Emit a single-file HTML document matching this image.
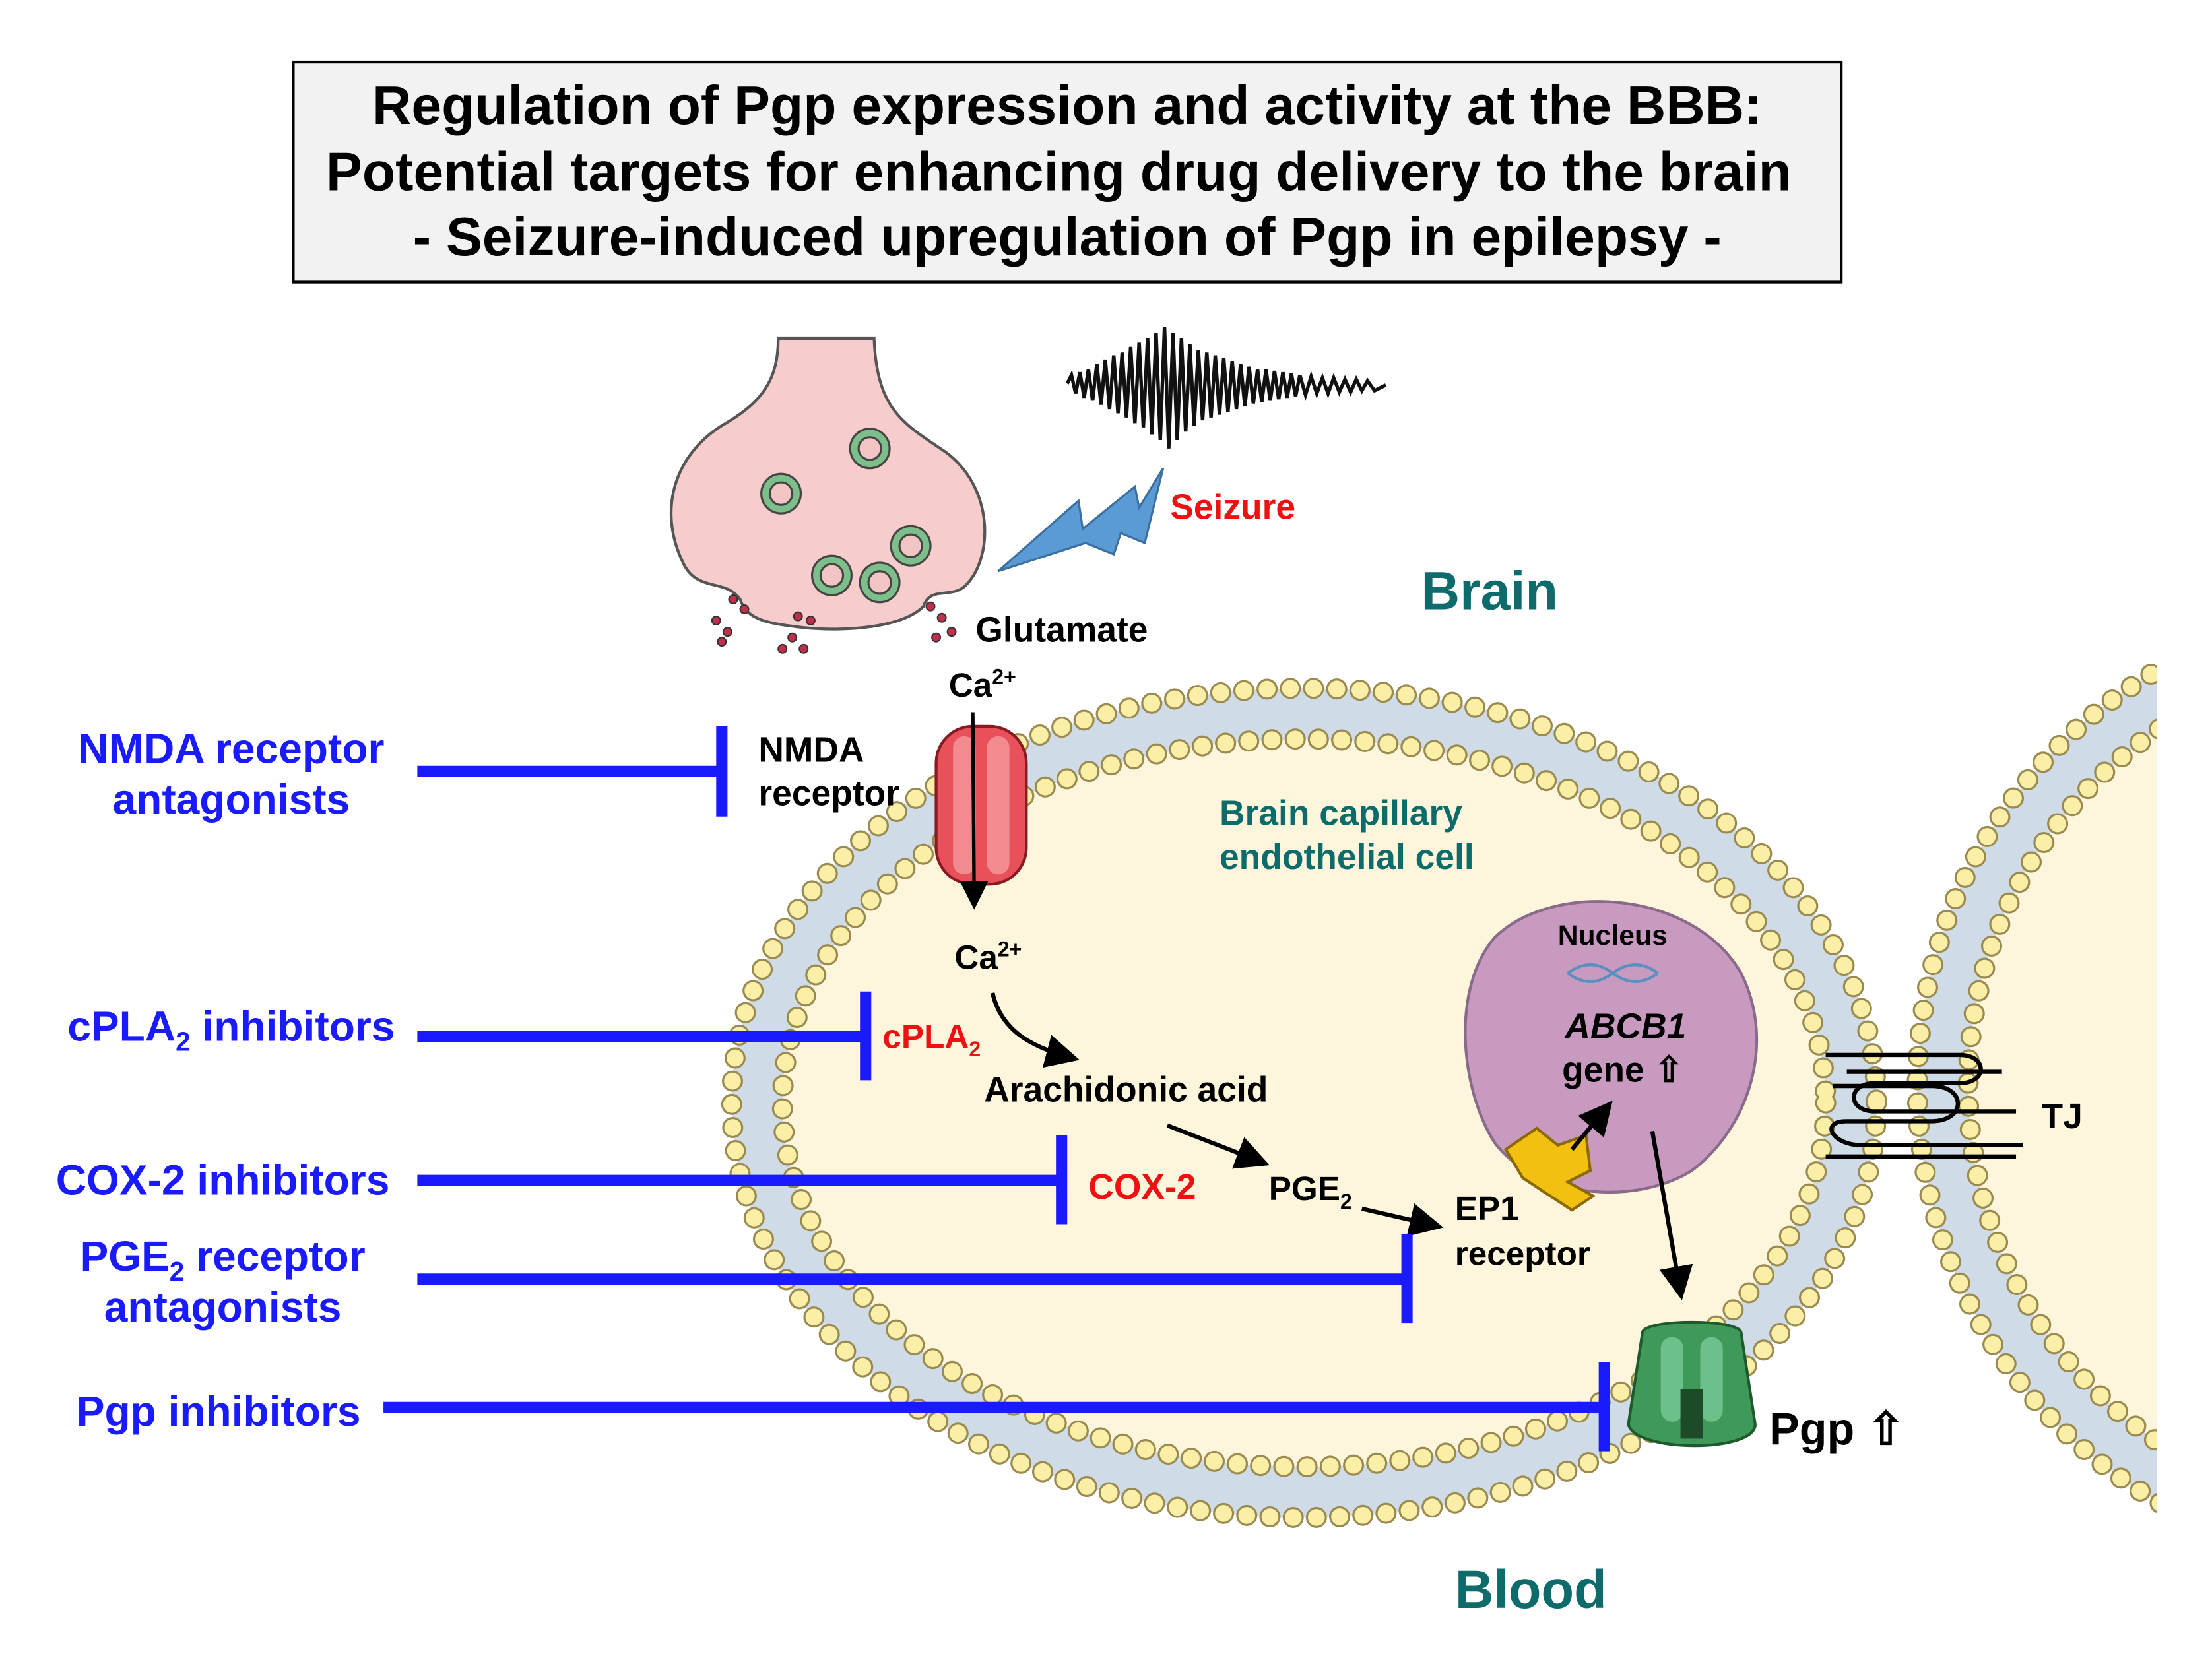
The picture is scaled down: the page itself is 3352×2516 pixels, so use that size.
<!DOCTYPE html>
<html><head><meta charset="utf-8"><style>
html,body{margin:0;padding:0;background:#fff;}
svg{display:block;}
text{font-family:"Liberation Sans",Arial,sans-serif;font-weight:bold;}
</style></head><body>
<svg width="3352" height="2516" viewBox="0 0 1569 1177" preserveAspectRatio="none" xmlns="http://www.w3.org/2000/svg">
<defs>
<marker id="ah" markerWidth="8" markerHeight="8" refX="6" refY="4" orient="auto" markerUnits="strokeWidth"><path d="M0,0 L8,4 L0,8 z" fill="#000"/></marker>
<clipPath id="rc"><rect x="0" y="0" width="1530" height="1177"/></clipPath>
</defs>
<!-- title -->
<rect x="208" y="44" width="1098" height="156" fill="#f2f2f2" stroke="#000" stroke-width="2"/>
<text x="757" y="88" font-size="38.5" text-anchor="middle">Regulation of Pgp expression and activity at the BBB:</text>
<text x="751" y="135" font-size="38.5" text-anchor="middle">Potential targets for enhancing drug delivery to the brain</text>
<text x="757" y="181" font-size="38.5" text-anchor="middle">- Seizure-induced upregulation of Pgp in epilepsy -</text>

<!-- right cell -->
<g clip-path="url(#rc)">
<circle cx="1700" cy="770" r="322" fill="#fdf6dc"/>
<circle cx="1700" cy="770" r="322" fill="none" stroke="#cfdbe6" stroke-width="36"/>
<circle cx="1700" cy="770" r="340" fill="none" stroke="#9a8a50" stroke-width="15" stroke-dasharray="0 16.5" stroke-linecap="round"/>
<circle cx="1700" cy="770" r="340" fill="none" stroke="#fbefa8" stroke-width="12" stroke-dasharray="0 16.5" stroke-linecap="round"/>
<circle cx="1700" cy="770" r="304" fill="none" stroke="#9a8a50" stroke-width="15" stroke-dasharray="0 16.5" stroke-linecap="round"/>
<circle cx="1700" cy="770" r="304" fill="none" stroke="#fbefa8" stroke-width="12" stroke-dasharray="0 16.5" stroke-linecap="round"/>
</g>
<!-- main cell -->
<ellipse cx="925" cy="782" rx="388" ry="276" fill="#fdf6dc"/>
<ellipse cx="925" cy="782" rx="388" ry="276" fill="none" stroke="#cfdbe6" stroke-width="36"/>
<ellipse cx="925" cy="782" rx="406" ry="294" fill="none" stroke="#9a8a50" stroke-width="15" stroke-dasharray="0 16.5" stroke-linecap="round"/>
<ellipse cx="925" cy="782" rx="406" ry="294" fill="none" stroke="#fbefa8" stroke-width="12" stroke-dasharray="0 16.5" stroke-linecap="round"/>
<ellipse cx="925" cy="782" rx="370" ry="258" fill="none" stroke="#9a8a50" stroke-width="15" stroke-dasharray="0 16.5" stroke-linecap="round"/>
<ellipse cx="925" cy="782" rx="370" ry="258" fill="none" stroke="#fbefa8" stroke-width="12" stroke-dasharray="0 16.5" stroke-linecap="round"/>

<!-- presynaptic terminal -->
<path d="M552,240 L620,240 C622,290 640,300 670,320 C705,345 705,395 685,415 C675,425 660,415 655,430 C640,445 600,448 570,445 C545,442 530,440 525,425 C515,410 495,420 485,400 C465,360 480,320 515,300 C540,285 552,270 552,240 Z" fill="#f7cccc" stroke="#555" stroke-width="2"/>
<g stroke="#444" stroke-width="1.5">
<circle cx="617" cy="318" r="14" fill="#7cbf8a"/><circle cx="617" cy="318" r="8" fill="#f2c4c4"/>
<circle cx="554" cy="350" r="14" fill="#7cbf8a"/><circle cx="554" cy="350" r="8" fill="#f2c4c4"/>
<circle cx="646" cy="387" r="14" fill="#7cbf8a"/><circle cx="646" cy="387" r="8" fill="#f2c4c4"/>
<circle cx="590" cy="408" r="14" fill="#7cbf8a"/><circle cx="590" cy="408" r="8" fill="#f2c4c4"/>
<circle cx="624" cy="413" r="14" fill="#7cbf8a"/><circle cx="624" cy="413" r="8" fill="#f2c4c4"/>
</g>
<g fill="#c0304a" stroke="#333" stroke-width="1">
<circle cx="508" cy="440" r="3"/><circle cx="516" cy="448" r="3"/><circle cx="512" cy="455" r="3"/><circle cx="520" cy="425" r="3"/><circle cx="528" cy="432" r="3"/>
<circle cx="555" cy="460" r="3"/><circle cx="562" cy="452" r="3"/><circle cx="570" cy="460" r="3"/><circle cx="575" cy="440" r="3"/><circle cx="566" cy="437" r="3"/>
<circle cx="660" cy="430" r="3"/><circle cx="668" cy="438" r="3"/><circle cx="675" cy="448" r="3"/><circle cx="664" cy="452" r="3"/>
</g>
<!-- EEG -->
<path d="M757,272 L760,266 L763,279 L766,264 L769,282 L772,262 L775,284 L778,258 L781,287 L784,255 L787,290 L790,252 L793,293 L796,250 L799,296 L802,246 L805,300 L808,243 L811,303 L814,240 L817,308 L820,236 L823,312 L826,232 L829,318 L832,236 L835,312 L838,240 L841,306 L844,244 L847,302 L850,248 L853,298 L856,250 L859,296 L862,252 L865,294 L868,254 L871,292 L874,256 L877,290 L880,258 L883,288 L886,260 L889,286 L892,262 L895,285 L898,262 L901,284 L904,263 L907,283 L910,264 L913,282 L916,265 L919,281 L922,266 L926,280 L930,267 L934,279 L938,268 L942,279 L946,268 L950,278 L954,269 L958,278 L962,269 L966,277 L970,270 L975,277 L983,273" fill="none" stroke="#111" stroke-width="2.5"/>
<!-- lightning -->
<path d="M708,405 L765,355 L768,375 L805,345 L808,360 L825,332 L812,385 L795,378 L790,393 L770,385 Z" fill="#5b9bd5" stroke="#3a6fa0" stroke-width="1.5"/>
<text x="830" y="368" font-size="25" fill="#ee1111">Seizure</text>
<text x="1008" y="432" font-size="38" fill="#0d6b6b">Brain</text>
<text x="692" y="455" font-size="25">Glutamate</text>

<!-- NMDA receptor -->
<rect x="664" y="515" width="64" height="112" rx="26" fill="#e8505a" stroke="#8a1a22" stroke-width="2"/>
<rect x="676" y="522" width="16" height="98" rx="8" fill="#f28a90"/>
<rect x="700" y="522" width="16" height="98" rx="8" fill="#f28a90"/>
<line x1="690" y1="505" x2="691" y2="640" stroke="#000" stroke-width="2.5" marker-end="url(#ah)"/>
<text x="673" y="494" font-size="24">Ca<tspan font-size="15" dy="-9">2+</tspan></text>
<text x="538" y="540" font-size="25">NMDA</text>
<text x="538" y="571" font-size="25">receptor</text>
<text x="865" y="585" font-size="25" fill="#0d6b6b">Brain capillary</text>
<text x="865" y="616" font-size="25" fill="#0d6b6b">endothelial cell</text>
<text x="677" y="687" font-size="24">Ca<tspan font-size="15" dy="-9">2+</tspan></text>
<path d="M704,704 C710,730 730,742 760,750" fill="none" stroke="#000" stroke-width="3" marker-end="url(#ah)"/>
<text x="626" y="743" font-size="24" fill="#ee1111">cPLA<tspan font-size="15" dy="6">2</tspan></text>
<text x="698" y="781" font-size="25">Arachidonic acid</text>
<line x1="828" y1="798" x2="895" y2="824" stroke="#000" stroke-width="3" marker-end="url(#ah)"/>
<text x="772" y="850" font-size="25" fill="#ee1111">COX-2</text>
<text x="900" y="851" font-size="24">PGE<tspan font-size="15" dy="6">2</tspan></text>
<line x1="966" y1="857" x2="1018" y2="869" stroke="#000" stroke-width="3" marker-end="url(#ah)"/>
<text x="1032" y="865" font-size="24">EP1</text>
<text x="1032" y="897" font-size="24">receptor</text>

<!-- nucleus -->
<path d="M1060,665 C1100,625 1200,630 1235,690 C1260,740 1240,800 1200,830 C1160,855 1090,850 1060,810 C1035,770 1030,700 1060,665 Z" fill="#c89ac0" stroke="#8a6a8a" stroke-width="2"/>
<text x="1105" y="670" font-size="20">Nucleus</text>
<path d="M1112,690 Q1128,678 1144,690 T1176,690 M1112,690 Q1128,702 1144,690 T1176,690" fill="none" stroke="#5a8fc0" stroke-width="2"/>
<text x="1110" y="736" font-size="25" font-style="italic">ABCB1</text>
<text x="1108" y="767" font-size="25">gene ⇧</text>
<!-- EP1 receptor shape -->
<path d="M1068,815 L1090,800 L1105,812 L1125,805 L1128,830 L1112,838 L1130,848 L1115,858 L1095,845 L1080,835 Z" fill="#f2c010" stroke="#8a6a00" stroke-width="2"/>
<line x1="1115" y1="815" x2="1140" y2="785" stroke="#000" stroke-width="3" marker-end="url(#ah)"/>
<line x1="1172" y1="802" x2="1192" y2="916" stroke="#000" stroke-width="3" marker-end="url(#ah)"/>
<!-- Pgp -->
<path d="M1165,945 C1165,935 1235,935 1235,945 L1245,1010 C1245,1030 1160,1030 1155,1010 Z" fill="#3f9a5a" stroke="#1d5a2e" stroke-width="2"/>
<rect x="1178" y="948" width="16" height="60" rx="8" fill="#6cc08a"/>
<rect x="1206" y="948" width="16" height="60" rx="8" fill="#6cc08a"/>
<rect x="1192" y="985" width="16" height="35" fill="#1d4a28"/>
<text x="1255" y="1024" font-size="32">Pgp ⇧</text>
<!-- TJ -->
<g fill="none" stroke="#000" stroke-width="3">
<path d="M1295,748 L1390,748 C1410,748 1410,768 1390,768 L1330,768 C1310,768 1310,788 1330,788 L1430,788"/>
<path d="M1300,770 L1370,770 C1395,770 1395,795 1370,795 L1310,795 C1290,795 1300,812 1320,812 L1435,812"/>
<path d="M1295,820 L1430,820 M1310,760 L1420,760"/>
</g>
<text x="1448" y="800" font-size="25">TJ</text>
<text x="1032" y="1140" font-size="38" fill="#0d6b6b">Blood</text>

<!-- inhibitors -->
<g stroke="#1a1aff" stroke-width="8" fill="none">
<line x1="296" y1="547" x2="512" y2="547"/><line x1="512" y1="515" x2="512" y2="579"/>
<line x1="296" y1="735" x2="614" y2="735"/><line x1="614" y1="703" x2="614" y2="766"/>
<line x1="296" y1="837" x2="753" y2="837"/><line x1="753" y1="805" x2="753" y2="868"/>
<line x1="296" y1="907" x2="998" y2="907"/><line x1="998" y1="875" x2="998" y2="938"/>
<line x1="272" y1="998" x2="1138" y2="998"/><line x1="1138" y1="966" x2="1138" y2="1029"/>
</g>
<g fill="#1a1aff" font-size="30" text-anchor="middle">
<text x="164" y="541">NMDA receptor</text>
<text x="164" y="577">antagonists</text>
<text x="164" y="738">cPLA<tspan font-size="19" dy="7">2</tspan><tspan dy="-7"> inhibitors</tspan></text>
<text x="158" y="847">COX-2 inhibitors</text>
<text x="158" y="901">PGE<tspan font-size="19" dy="7">2</tspan><tspan dy="-7"> receptor</tspan></text>
<text x="158" y="937">antagonists</text>
<text x="155" y="1011">Pgp inhibitors</text>
</g>
</svg>
</body></html>
